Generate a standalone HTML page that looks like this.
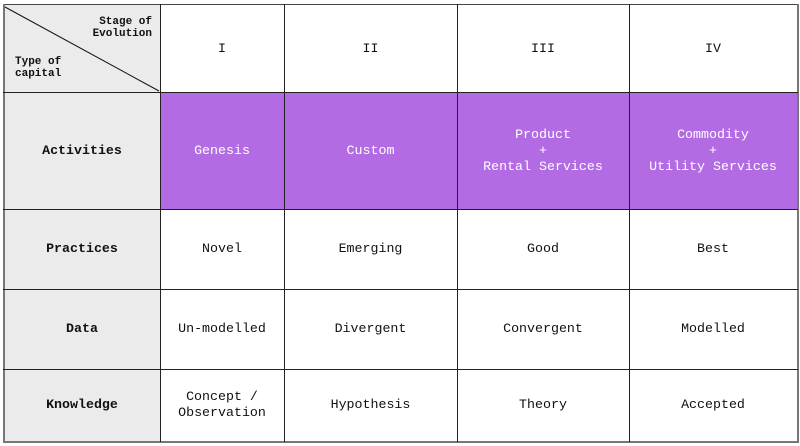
<!DOCTYPE html>
<html><head><style>
body{margin:0;width:800px;height:446px;background:#fff;position:relative;font-family:"Liberation Mono",monospace;font-size:13.3px;color:#111;overflow:hidden}
.c{position:absolute;display:flex;align-items:center;justify-content:center;text-align:center;line-height:16px;box-sizing:border-box}
.g{background:#ebebeb;font-weight:bold}
.p{background:#b36be3;color:#fff}
.h{position:absolute;background:#222}
</style></head><body>
<div class="c g" style="left:4px;top:5px;width:156px;height:87px"></div>
<svg style="position:absolute;left:0;top:0" width="800" height="446"><line x1="5" y1="7" x2="159" y2="91" stroke="#111" stroke-width="1"/></svg>
<div style="position:absolute;left:92px;top:16px;font-size:11px;font-weight:bold;line-height:12px;text-align:right;width:60px">Stage of<br>Evolution</div>
<div style="position:absolute;left:15px;top:56px;font-size:11px;font-weight:bold;line-height:12px">Type of<br>capital</div>
<div class="c" style="left:160px;top:5px;width:124px;height:87px">I</div>
<div class="c" style="left:284px;top:5px;width:173px;height:87px">II</div>
<div class="c" style="left:457px;top:5px;width:172px;height:87px">III</div>
<div class="c" style="left:629px;top:5px;width:168px;height:87px">IV</div>

<div class="c g" style="left:4px;top:92px;width:156px;height:117px">Activities</div>
<div class="c p" style="left:160px;top:92px;width:124px;height:117px">Genesis</div>
<div class="c p" style="left:284px;top:92px;width:173px;height:117px">Custom</div>
<div class="c p" style="left:457px;top:92px;width:172px;height:117px">Product<br>+<br>Rental Services</div>
<div class="c p" style="left:629px;top:92px;width:168px;height:117px">Commodity<br>+<br>Utility Services</div>

<div class="c g" style="left:4px;top:209px;width:156px;height:80px">Practices</div>
<div class="c" style="left:160px;top:209px;width:124px;height:80px">Novel</div>
<div class="c" style="left:284px;top:209px;width:173px;height:80px">Emerging</div>
<div class="c" style="left:457px;top:209px;width:172px;height:80px">Good</div>
<div class="c" style="left:629px;top:209px;width:168px;height:80px">Best</div>

<div class="c g" style="left:4px;top:289px;width:156px;height:80px">Data</div>
<div class="c" style="left:160px;top:289px;width:124px;height:80px">Un-modelled</div>
<div class="c" style="left:284px;top:289px;width:173px;height:80px">Divergent</div>
<div class="c" style="left:457px;top:289px;width:172px;height:80px">Convergent</div>
<div class="c" style="left:629px;top:289px;width:168px;height:80px">Modelled</div>

<div class="c g" style="left:4px;top:369px;width:156px;height:72px">Knowledge</div>
<div class="c" style="left:160px;top:369px;width:124px;height:72px">Concept /<br>Observation</div>
<div class="c" style="left:284px;top:369px;width:173px;height:72px">Hypothesis</div>
<div class="c" style="left:457px;top:369px;width:172px;height:72px">Theory</div>
<div class="c" style="left:629px;top:369px;width:168px;height:72px">Accepted</div>

<div class="h" style="left:3px;top:4px;width:795px;height:1px;background:#444"></div>
<div class="h" style="left:3px;top:441px;width:795px;height:2px;background:#777"></div>
<div class="h" style="left:3px;top:4px;width:2px;height:439px;background:#777"></div>
<div class="h" style="left:797px;top:4px;width:2px;height:439px;background:#777"></div>
<div class="h" style="left:160px;top:4px;width:1px;height:438px"></div>
<div class="h" style="left:284px;top:4px;width:1px;height:438px"></div>
<div class="h" style="left:457px;top:4px;width:1px;height:438px"></div>
<div class="h" style="left:629px;top:4px;width:1px;height:438px"></div>
<div class="h" style="left:3px;top:92px;width:795px;height:1px"></div>
<div class="h" style="left:3px;top:209px;width:795px;height:1px"></div>
<div class="h" style="left:3px;top:289px;width:795px;height:1px"></div>
<div class="h" style="left:3px;top:369px;width:795px;height:1px"></div>
</body></html>
